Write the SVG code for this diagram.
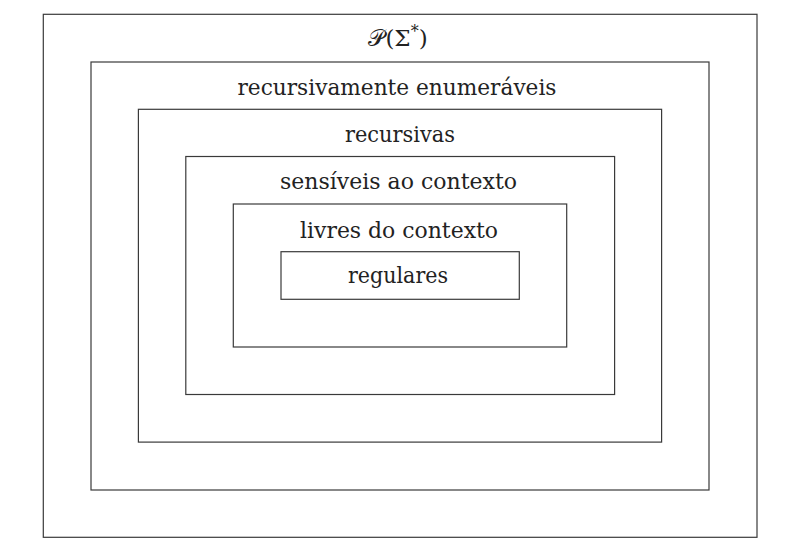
<svg xmlns="http://www.w3.org/2000/svg" width="787" height="556" viewBox="0 0 787 556">
<style>
  .box { fill: none; stroke: #3a3a3a; stroke-width: 1.2; }
  text { font-family: 'DejaVu Serif', serif; font-size: 23px; fill: #222; text-anchor: middle; }
</style>
<rect x="0" y="0" width="787" height="556" fill="#ffffff"/>
<g id="sigma">
  <rect class="box" x="43.3" y="14.3" width="713.7" height="523"/>
  <text x="398" y="46">𝒫(Σ<tspan font-size="16" dy="-9">*</tspan><tspan dy="9">)</tspan></text>
</g>
<g id="re">
  <rect class="box" x="91" y="62" width="618" height="428"/>
  <text x="397" y="95" textLength="319" lengthAdjust="spacingAndGlyphs">recursivamente enumeráveis</text>
</g>
<g id="rec">
  <rect class="box" x="138.4" y="109.3" width="523.2" height="332.8"/>
  <text x="400" y="142" textLength="110" lengthAdjust="spacingAndGlyphs">recursivas</text>
</g>
<g id="cs">
  <rect class="box" x="185.8" y="156.5" width="428.8" height="238"/>
  <text x="398.5" y="189" textLength="237" lengthAdjust="spacingAndGlyphs">sensíveis ao contexto</text>
</g>
<g id="cf">
  <rect class="box" x="233.3" y="204" width="333.4" height="143"/>
  <text x="399" y="237.5" textLength="198" lengthAdjust="spacingAndGlyphs">livres do contexto</text>
</g>
<g id="reg">
  <rect class="box" x="281" y="251.7" width="238.3" height="47.6"/>
  <text x="398" y="283" textLength="100" lengthAdjust="spacingAndGlyphs">regulares</text>
</g>
</svg>
